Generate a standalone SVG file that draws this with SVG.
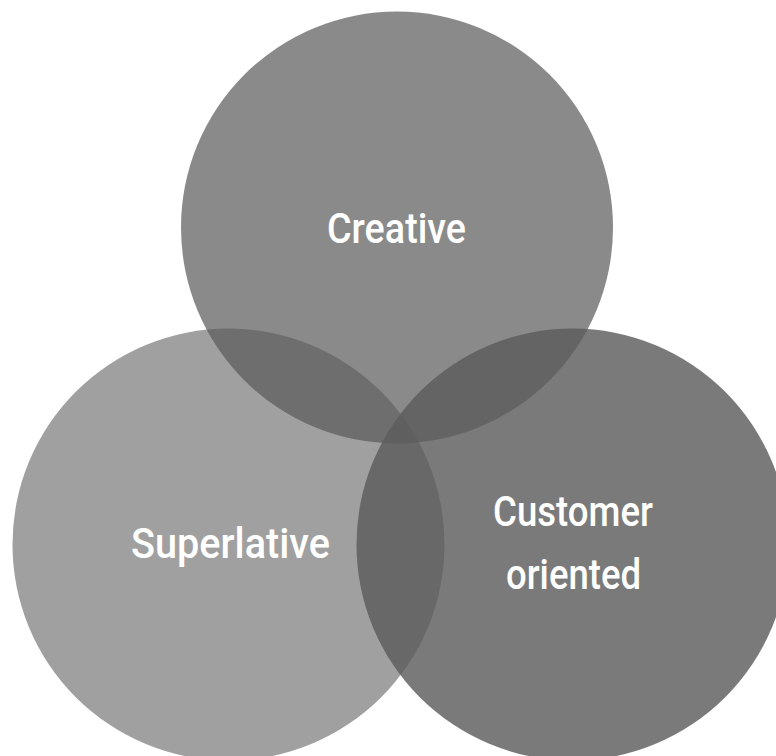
<svg xmlns="http://www.w3.org/2000/svg" width="776" height="756" viewBox="0 0 776 756">
<style>
.lbl{font-family:"Roboto","Liberation Sans",sans-serif;font-size:43px;font-weight:500;fill:#ffffff;text-anchor:middle}
</style>
<rect width="776" height="756" fill="#ffffff"/>
<g id="creative">
<circle cx="397" cy="227.5" r="216" fill="#5a5a5a" fill-opacity="0.709"/>
<text class="lbl" x="396.5" y="243" textLength="139" lengthAdjust="spacingAndGlyphs">Creative</text>
</g>
<g id="superlative">
<circle cx="228.5" cy="544.5" r="216" fill="#595959" fill-opacity="0.573"/>
<text class="lbl" x="230.5" y="558" textLength="199" lengthAdjust="spacingAndGlyphs">Superlative</text>
</g>
<g id="customer-oriented">
<circle cx="572.5" cy="544.5" r="216" fill="#5b5b5b" fill-opacity="0.812"/>
<text class="lbl" x="573" y="526" textLength="160" lengthAdjust="spacingAndGlyphs">Customer</text>
<text class="lbl" x="573.5" y="589" textLength="135" lengthAdjust="spacingAndGlyphs">oriented</text>
</g>
<g id="connectors"/>
</svg>
